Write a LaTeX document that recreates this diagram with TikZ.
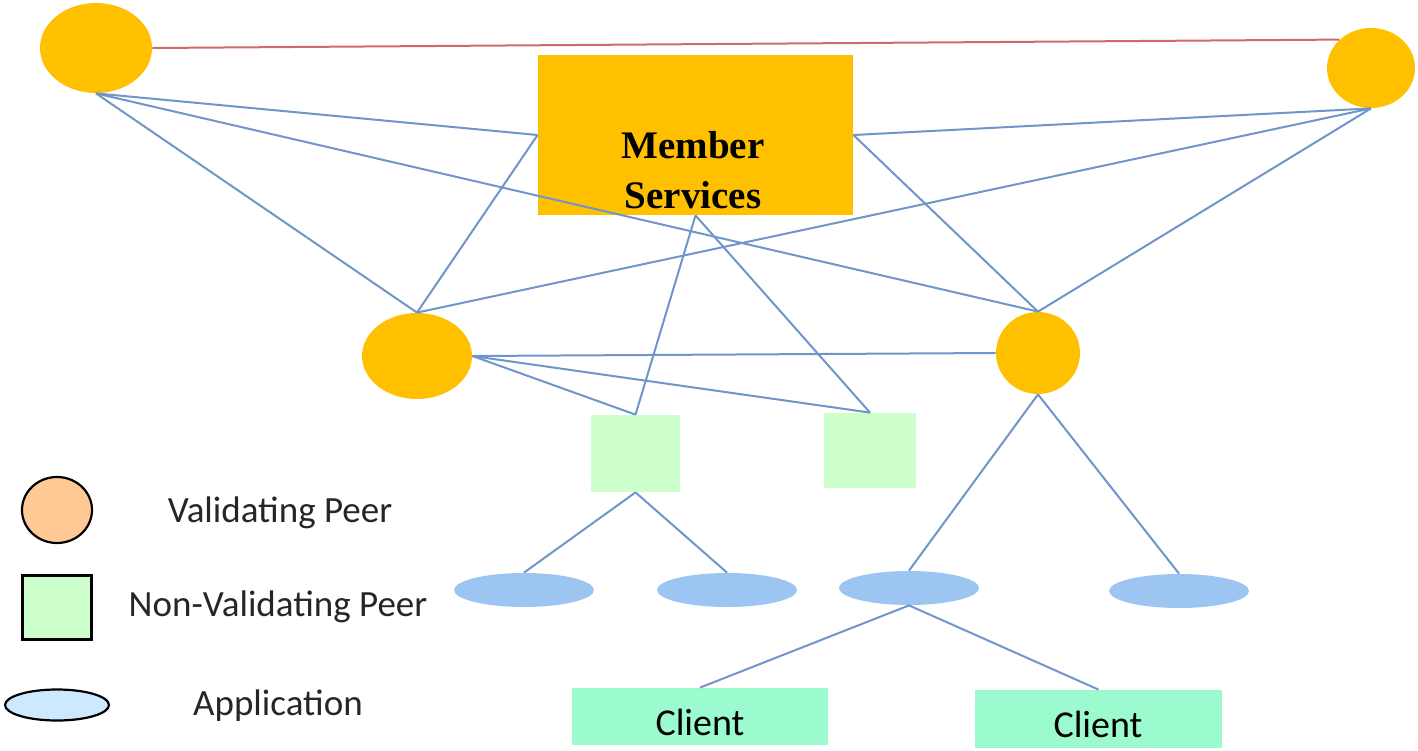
\documentclass[tikz,border=0pt]{standalone}
\usepackage{fontspec}
\setmainfont{Liberation Serif}
\newfontfamily\calib{Carlito}
\usetikzlibrary{shapes.geometric}
\definecolor{vpyellow}{HTML}{FFC000}
\definecolor{linkblue}{HTML}{6F95CA}
\definecolor{linkred}{HTML}{D06A6A}
\definecolor{nvpgreen}{HTML}{CCFFCC}
\definecolor{appblue}{HTML}{9DC5F2}
\definecolor{clientgreen}{HTML}{9BFBCE}
\definecolor{legpeach}{HTML}{FFC996}
\definecolor{legblue}{HTML}{CDE9FF}
\tikzset{
  vpnode/.style={ellipse, fill=vpyellow, draw=none, inner sep=0pt},
  msbox/.style={rectangle, fill=vpyellow, draw=none, inner sep=0pt, minimum width=157.5pt, minimum height=80pt},
  mstext/.style={align=center, font=\bfseries\fontsize{19.5}{25}\selectfont},
  nvpbox/.style={rectangle, fill=nvpgreen, draw=none, inner sep=0pt},
  appnode/.style={ellipse, fill=appblue, draw=none, inner sep=0pt, minimum width=70pt, minimum height=17pt},
  clientbox/.style={rectangle, fill=clientgreen, draw=none, inner sep=0pt, font=\calib\fontsize{19}{22}\selectfont},
  legtext/.style={font=\calib\fontsize{18.5}{22}\selectfont, text=black!85},
  link/.style={draw=linkblue, line width=1pt},
  redlink/.style={draw=linkred, line width=1pt},
}
\begin{document}
\begin{tikzpicture}[x=0.5pt,y=-0.5pt]
\useasboundingbox (0,0) rectangle (1418,750);
% validating peers
\node[vpnode, minimum width=56pt, minimum height=45pt] (vp1) at (96,48) {};
\node[vpnode, minimum width=44pt, minimum height=40pt] (vp2) at (1371,68) {};
\node[vpnode, minimum width=55pt, minimum height=43pt] (vp3) at (417,356) {};
\node[vpnode, minimum width=42pt, minimum height=41pt] (vp4) at (1038,353) {};
% member services
\node[msbox] (ms) at (695.5,135) {};
\node[mstext] (mslabel) at (693,170) {Member\\Services};
% non-validating peers
\node[nvpbox, minimum width=44.5pt, minimum height=38.5pt] (nvp1) at (635.5,453.5) {};
\node[nvpbox, minimum width=46pt, minimum height=37.5pt] (nvp2) at (870,450.5) {};
% applications
\node[appnode] (app1) at (524,590) {};
\node[appnode] (app2) at (727,590) {};
\node[appnode] (app3) at (909,588) {};
\node[appnode] (app4) at (1179,591) {};
% clients
\node[clientbox, minimum width=128pt, minimum height=28.5pt] (cl1) at (700,716.5) {};
\node[clientbox, minimum width=123.5pt, minimum height=29pt] (cl2) at (1098.5,719) {};
\node[clientbox] (cl1t) at (700,722) {Client};
\node[clientbox] (cl2t) at (1098,724) {Client};
% connectors
\draw[redlink] (vp1.east) -- (vp2.138);
\draw[link] (vp1.south) -- (ms.west);
\draw[link] (vp1.south) -- (vp3.north);
\draw[link] (vp1.south) -- (vp4.north);
\draw[link] (vp2.south) -- (ms.east);
\draw[link] (vp2.south) -- (vp3.north);
\draw[link] (vp2.south) -- (vp4.north);
\draw[link] (ms.west) -- (vp3.north);
\draw[link] (ms.east) -- (vp4.north);
\draw[link] (ms.south) -- (nvp1.north);
\draw[link] (ms.south) -- (nvp2.north);
\draw[link] (vp3.east) -- (vp4.west);
\draw[link] (vp3.east) -- (nvp1.north);
\draw[link] (vp3.east) -- (nvp2.north);
\draw[link] (vp4.south) -- (app3.north);
\draw[link] (vp4.south) -- (app4.north);
\draw[link] (nvp1.south) -- (app1.north);
\draw[link] (nvp1.south) -- (app2.north);
\draw[link] (app3.south) -- (cl1.north);
\draw[link] (app3.south) -- (cl2.north);
% legend
\node[ellipse, fill=legpeach, draw=black, line width=1.1pt, inner sep=0pt, minimum width=35pt, minimum height=33pt] (legvp) at (57,510) {};
\node[rectangle, fill=nvpgreen, draw=black, line width=1.1pt, inner sep=0pt, minimum width=34.5pt, minimum height=32pt] (legnvp) at (57,607.5) {};
\node[ellipse, fill=legblue, draw=black, line width=1.1pt, inner sep=0pt, minimum width=52pt, minimum height=15.5pt] (legapp) at (57,705) {};
\node[legtext] (legvpt) at (280,513) {Validating Peer};
\node[legtext] (legnvpt) at (278,607) {Non-Validating Peer};
\node[legtext] (legappt) at (278,706) {Application};
\end{tikzpicture}
\end{document}
